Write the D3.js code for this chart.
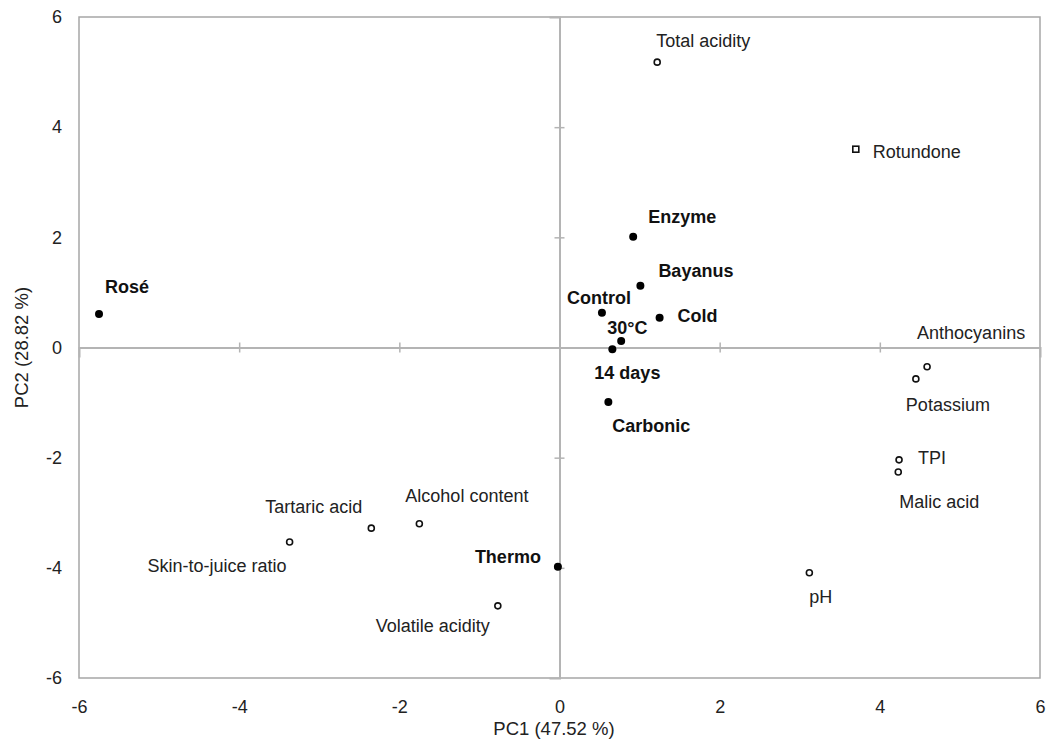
<!DOCTYPE html>
<html>
<head>
<meta charset="utf-8">
<script src="https://cdn.jsdelivr.net/npm/d3@7"></script>
<style>
  html, body { margin: 0; padding: 0; background: #fff; }
  svg { display: block; font-family: "Liberation Sans", Arial, sans-serif; }
</style>
</head>
<body>
<svg id="chart" width="1051" height="753"></svg>
<script>
// ---- data ----
const sampleNames = ["Enzyme", "Bayanus", "Control", "Cold", "30°C", "14 days", "Carbonic", "Rosé", "Thermo"];
const samplePC1   = [0.92, 1.01, 0.53, 1.25, 0.77, 0.66, 0.61, -5.75, -0.02];
const samplePC2   = [2.01, 1.12, 0.63, 0.54, 0.12, -0.03, -0.99, 0.61, -3.98];

const variableNames = ["Total acidity", "Anthocyanins", "Potassium", "TPI", "Malic acid", "pH",
                       "Volatile acidity", "Alcohol content", "Tartaric acid", "Skin-to-juice ratio"];
const variablePC1   = [1.22, 4.59, 4.45, 4.24, 4.23, 3.12, -0.77, -1.75, -2.35, -3.37];
const variablePC2   = [5.18, -0.35, -0.57, -2.04, -2.26, -4.09, -4.69, -3.20, -3.28, -3.53];

const rotundoneName = ["Rotundone"];
const rotundonePC1  = [3.70];
const rotundonePC2  = [3.60];

const xTicks = [-6, -4, -2, 0, 2, 4, 6];
const yTicks = [-6, -4, -2, 0, 2, 4, 6];
const xTitle = "PC1 (47.52 %)";
const yTitle = "PC2 (28.82 %)";

// ---- label placement (layout, pixels) ----
const labelPlace = {
  "Enzyme": [15, -14, "start"], "Bayanus": [18, -9, "start"], "Control": [-35, -9, "start"],
  "Cold": [18, 4, "start"], "30°C": [-14, -7, "start"], "14 days": [-18, 30, "start"],
  "Carbonic": [4, 30, "start"], "Rosé": [6, -21, "start"], "Thermo": [-17, -4, "end"],
  "Total acidity": [-1, -15, "start"], "Anthocyanins": [-10, -28, "start"],
  "Potassium": [-10, 32, "start"], "TPI": [19, 4, "start"], "Malic acid": [1, 36, "start"],
  "pH": [0, 30, "start"], "Volatile acidity": [-8, 26, "end"], "Alcohol content": [-14, -22, "start"],
  "Tartaric acid": [-9, -15, "end"], "Skin-to-juice ratio": [-3, 30, "end"],
  "Rotundone": [17, 9, "start"]
};

const W = 1051, H = 753;
const m = { left: 79, right: 11, top: 17, bottom: 75 };
const svg = d3.select("#chart");

const x = d3.scaleLinear().domain([-6, 6]).range([m.left, W - m.right]);
const y = d3.scaleLinear().domain([-6, 6]).range([H - m.bottom, m.top]);

const g = svg.append("g");

// frame
g.append("rect")
  .attr("x", x(-6)).attr("y", y(6))
  .attr("width", x(6) - x(-6)).attr("height", y(-6) - y(6))
  .attr("fill", "none").attr("stroke", "#a6a6a6").attr("stroke-width", 1.5);

// zero axes with crossing ticks
const xAxis = d3.axisBottom(x).tickValues(xTicks.filter(v => v > -6 && v < 6)).tickSize(10).tickFormat("");
const yAxis = d3.axisLeft(y).tickValues(yTicks.filter(v => v > -6 && v < 6)).tickSize(10).tickFormat("");

const gx = g.append("g").attr("transform", `translate(0,${y(0)})`).call(xAxis);
gx.selectAll(".tick line").attr("transform", "translate(0,-5)");
const gy = g.append("g").attr("transform", `translate(${x(0)},0)`).call(yAxis);
gy.selectAll(".tick line").attr("transform", "translate(5,0)");
[gx, gy].forEach(a => {
  a.select(".domain").attr("stroke", "#b4b4b4").attr("stroke-width", 2);
  a.selectAll(".tick line").attr("stroke", "#b4b4b4").attr("stroke-width", 1.5);
});

// tick labels on frame edges
const tickColor = "#222";
const xl = d3.axisBottom(x).tickValues(xTicks).tickSize(0).tickPadding(22).tickFormat(d3.format("d"));
const gxl = g.append("g").attr("transform", `translate(0,${y(-6)})`).call(xl);
const yl = d3.axisLeft(y).tickValues(yTicks).tickSize(0).tickPadding(17).tickFormat(d3.format("d"));
const gyl = g.append("g").attr("transform", `translate(${x(-6)},0)`).call(yl);
[gxl, gyl].forEach(a => {
  a.select(".domain").remove();
  a.selectAll("text").attr("font-size", 18).attr("fill", tickColor)
    .attr("font-family", "'Liberation Sans', Arial, sans-serif");
});
gxl.selectAll("text").text(d => d < 0 ? "-" + Math.abs(d) : d);
gyl.selectAll("text").text(d => d < 0 ? "-" + Math.abs(d) : d);

// axis titles
svg.append("text").attr("x", 554).attr("y", 735).attr("text-anchor", "middle")
  .attr("font-size", 18.5).attr("fill", tickColor).text(xTitle);
svg.append("text").attr("transform", `translate(28,${y(0)}) rotate(-90)`).attr("text-anchor", "middle")
  .attr("font-size", 18.5).attr("fill", tickColor).text(yTitle);

// build point lists
const samples = sampleNames.map((n, i) => ({ name: n, pc1: samplePC1[i], pc2: samplePC2[i] }));
const variables = variableNames.map((n, i) => ({ name: n, pc1: variablePC1[i], pc2: variablePC2[i] }));
const rot = rotundoneName.map((n, i) => ({ name: n, pc1: rotundonePC1[i], pc2: rotundonePC2[i] }));

// markers
g.selectAll(".var").data(variables).enter().append("circle")
  .attr("cx", d => x(d.pc1)).attr("cy", d => y(d.pc2)).attr("r", 3)
  .attr("fill", "#fff").attr("stroke", "#111").attr("stroke-width", 1.6);
g.selectAll(".rot").data(rot).enter().append("rect")
  .attr("x", d => x(d.pc1) - 3).attr("y", d => y(d.pc2) - 3).attr("width", 6).attr("height", 6)
  .attr("fill", "#fff").attr("stroke", "#111").attr("stroke-width", 1.6);
g.selectAll(".smp").data(samples).enter().append("circle")
  .attr("cx", d => x(d.pc1)).attr("cy", d => y(d.pc2)).attr("r", 4)
  .attr("fill", "#000");

// labels
function addLabels(data, bold) {
  g.selectAll(null).data(data).enter().append("text")
    .attr("x", d => x(d.pc1) + labelPlace[d.name][0])
    .attr("y", d => y(d.pc2) + labelPlace[d.name][1])
    .attr("text-anchor", d => labelPlace[d.name][2])
    .attr("font-size", 18)
    .attr("font-weight", bold ? "bold" : "normal")
    .attr("fill", bold ? "#111" : "#222")
    .text(d => d.name);
}
addLabels(samples, true);
addLabels(variables, false);
addLabels(rot, false);
</script>
</body>
</html>
